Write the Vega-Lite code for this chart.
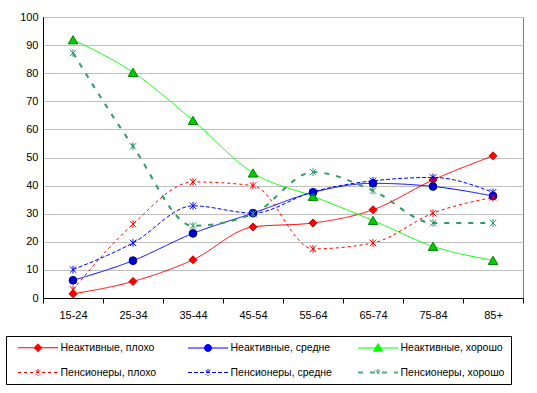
{
  "$schema": "https://vega.github.io/schema/vega-lite/v6.json",
  "width": 480,
  "height": 281,
  "autosize": {"type": "none"},
  "padding": {"left": 43, "top": 17, "right": 14, "bottom": 95},
  "background": "white",
  "config": {
    "font": "Liberation Sans",
    "view": {"stroke": "#808080", "strokeWidth": 1},
    "axis": {"labelFont": "Liberation Sans", "labelFontSize": 11, "labelColor": "#000000", "domainColor": "#000000", "tickColor": "#000000", "title": null},
    "legend": {
      "orient": "none", "legendX": -37, "legendY": 319,
      "direction": "horizontal", "columns": 3, "gridAlign": "all",
      "columnPadding": 17, "rowPadding": 13, "padding": 6,
      "strokeColor": "#000000", "fillColor": "#ffffff",
      "labelFont": "Liberation Sans", "labelFontSize": 10.5, "labelColor": "#000000",
      "labelOffset": 17, "symbolOffset": 20.5, "symbolSize": 100, "symbolStrokeWidth": 1, "symbolOpacity": 1, "title": null
    }
  },
  "data": {"values": [
    {"age": "15-24", "series": "Неактивные, плохо", "value": 1.5},
    {"age": "25-34", "series": "Неактивные, плохо", "value": 5.9},
    {"age": "35-44", "series": "Неактивные, плохо", "value": 13.6},
    {"age": "45-54", "series": "Неактивные, плохо", "value": 25.3},
    {"age": "55-64", "series": "Неактивные, плохо", "value": 26.7},
    {"age": "65-74", "series": "Неактивные, плохо", "value": 31.4},
    {"age": "75-84", "series": "Неактивные, плохо", "value": 42.0},
    {"age": "85+", "series": "Неактивные, плохо", "value": 50.6},
    {"age": "15-24", "series": "Неактивные, средне", "value": 6.3},
    {"age": "25-34", "series": "Неактивные, средне", "value": 13.3},
    {"age": "35-44", "series": "Неактивные, средне", "value": 23.0},
    {"age": "45-54", "series": "Неактивные, средне", "value": 30.2},
    {"age": "55-64", "series": "Неактивные, средне", "value": 37.6},
    {"age": "65-74", "series": "Неактивные, средне", "value": 40.8},
    {"age": "75-84", "series": "Неактивные, средне", "value": 39.7},
    {"age": "85+", "series": "Неактивные, средне", "value": 36.3},
    {"age": "15-24", "series": "Неактивные, хорошо", "value": 91.9},
    {"age": "25-34", "series": "Неактивные, хорошо", "value": 80.3},
    {"age": "35-44", "series": "Неактивные, хорошо", "value": 63.2},
    {"age": "45-54", "series": "Неактивные, хорошо", "value": 44.5},
    {"age": "55-64", "series": "Неактивные, хорошо", "value": 36.2},
    {"age": "65-74", "series": "Неактивные, хорошо", "value": 27.6},
    {"age": "75-84", "series": "Неактивные, хорошо", "value": 18.4},
    {"age": "85+", "series": "Неактивные, хорошо", "value": 13.4},
    {"age": "15-24", "series": "Пенсионеры, плохо", "value": 3.0},
    {"age": "25-34", "series": "Пенсионеры, плохо", "value": 26.3},
    {"age": "35-44", "series": "Пенсионеры, плохо", "value": 41.3},
    {"age": "45-54", "series": "Пенсионеры, плохо", "value": 40.0},
    {"age": "55-64", "series": "Пенсионеры, плохо", "value": 17.5},
    {"age": "65-74", "series": "Пенсионеры, плохо", "value": 19.6},
    {"age": "75-84", "series": "Пенсионеры, плохо", "value": 30.2},
    {"age": "85+", "series": "Пенсионеры, плохо", "value": 35.8},
    {"age": "15-24", "series": "Пенсионеры, средне", "value": 10.1},
    {"age": "25-34", "series": "Пенсионеры, средне", "value": 19.6},
    {"age": "35-44", "series": "Пенсионеры, средне", "value": 32.8},
    {"age": "45-54", "series": "Пенсионеры, средне", "value": 30.2},
    {"age": "55-64", "series": "Пенсионеры, средне", "value": 37.8},
    {"age": "65-74", "series": "Пенсионеры, средне", "value": 41.7},
    {"age": "75-84", "series": "Пенсионеры, средне", "value": 42.9},
    {"age": "85+", "series": "Пенсионеры, средне", "value": 37.6},
    {"age": "15-24", "series": "Пенсионеры, хорошо", "value": 87.2},
    {"age": "25-34", "series": "Пенсионеры, хорошо", "value": 54.0},
    {"age": "35-44", "series": "Пенсионеры, хорошо", "value": 25.7},
    {"age": "45-54", "series": "Пенсионеры, хорошо", "value": 29.9},
    {"age": "55-64", "series": "Пенсионеры, хорошо", "value": 44.8},
    {"age": "65-74", "series": "Пенсионеры, хорошо", "value": 38.2},
    {"age": "75-84", "series": "Пенсионеры, хорошо", "value": 26.7},
    {"age": "85+", "series": "Пенсионеры, хорошо", "value": 26.7}
  ]},
  "encoding": {
    "x": {
      "field": "age", "type": "ordinal",
      "sort": ["15-24", "25-34", "35-44", "45-54", "55-64", "65-74", "75-84", "85+"],
      "scale": {"type": "band", "paddingInner": 0, "paddingOuter": 0},
      "axis": {"labelAngle": 0, "tickBand": "extent", "tickSize": 5, "labelPadding": 6, "grid": false, "domainColor": "#000000"}
    },
    "y": {
      "field": "value", "type": "quantitative",
      "scale": {"domain": [0, 100], "nice": false},
      "axis": {"values": [0, 10, 20, 30, 40, 50, 60, 70, 80, 90, 100], "ticks": false, "labelPadding": 5, "grid": true, "gridColor": "#C0C0C0", "gridWidth": 1, "domainColor": "#000000"}
    }
  },
  "layer": [
    {
      "mark": {"type": "line", "interpolate": "monotone"},
      "encoding": {
        "color": {"field": "series", "type": "nominal",
          "scale": {"domain": ["Неактивные, плохо", "Неактивные, средне", "Неактивные, хорошо", "Пенсионеры, плохо", "Пенсионеры, средне", "Пенсионеры, хорошо"],
                    "range": ["#FF0000", "#0000FF", "#00FF00", "#FF0000", "#0000FF", "#339966"]},
          "legend": {"encode": {"symbols": {"update": {
            "fill": {"scale": "color", "field": "value"},
            "stroke": {"scale": "color", "field": "value"},
            "strokeWidth": {"value": 1},
            "opacity": {"value": 1}
          }}}}},
        "strokeDash": {"field": "series", "type": "nominal",
          "scale": {"domain": ["Неактивные, плохо", "Неактивные, средне", "Неактивные, хорошо", "Пенсионеры, плохо", "Пенсионеры, средне", "Пенсионеры, хорошо"],
                    "range": [[1, 0], [1, 0], [1, 0], [3, 3], [4, 2], [5, 7]]}},
        "strokeWidth": {"condition": {"test": "datum.series === 'Пенсионеры, хорошо'", "value": 2}, "value": 1}
      }
    },
    {
      "transform": [{"filter": "datum.series === 'Неактивные, плохо'"}],
      "mark": {"type": "point", "shape": "diamond", "filled": true, "fill": "#FF0000", "stroke": "#CC0000", "strokeWidth": 1, "size": 64, "opacity": 1}
    },
    {
      "transform": [{"filter": "datum.series === 'Неактивные, средне'"}],
      "mark": {"type": "point", "shape": "circle", "filled": true, "fill": "#0000CC", "stroke": "#000080", "strokeWidth": 1, "size": 60, "opacity": 1}
    },
    {
      "transform": [{"filter": "datum.series === 'Неактивные, хорошо'"}],
      "mark": {"type": "point", "shape": "triangle-up", "filled": true, "fill": "#00CC00", "stroke": "#008000", "strokeWidth": 1, "size": 90, "opacity": 1}
    },
    {
      "transform": [{"filter": "indexof(datum.series, 'Пенсионеры') === 0"}],
      "mark": {"type": "point", "shape": "M-1,-1L1,1M1,-1L-1,1M0,-1.2V1.2", "filled": false, "strokeWidth": 1, "size": 42, "opacity": 1},
      "encoding": {
        "color": {"field": "series", "type": "nominal"}
      }
    },
    {
      "mark": {"type": "point", "filled": false, "opacity": 0},
      "encoding": {
        "color": {"field": "series", "type": "nominal"},
        "strokeDash": {"field": "series", "type": "nominal"},
        "shape": {"field": "series", "type": "nominal",
          "scale": {"domain": ["Неактивные, плохо", "Неактивные, средне", "Неактивные, хорошо", "Пенсионеры, плохо", "Пенсионеры, средне", "Пенсионеры, хорошо"],
                    "range": [
                      "M-4,0H4M0,-0.8L0.8,0L0,0.8L-0.8,0Z",
                      "M-4,0H4M-0.7,0A0.7,0.7 0 1,0 0.7,0A0.7,0.7 0 1,0 -0.7,0Z",
                      "M-4,0H4M0,-0.9L0.9,0.65L-0.9,0.65Z",
                      "M-4,0H4M-0.5,-0.5L0.5,0.5M0.5,-0.5L-0.5,0.5M0,-0.7V0.7",
                      "M-4,0H4M-0.5,-0.5L0.5,0.5M0.5,-0.5L-0.5,0.5M0,-0.7V0.7",
                      "M-4,-0.1H4M-4,0.1H4M-0.5,-0.5L0.5,0.5M0.5,-0.5L-0.5,0.5M0,-0.7V0.7"
                    ]}}
      }
    }
  ]
}
